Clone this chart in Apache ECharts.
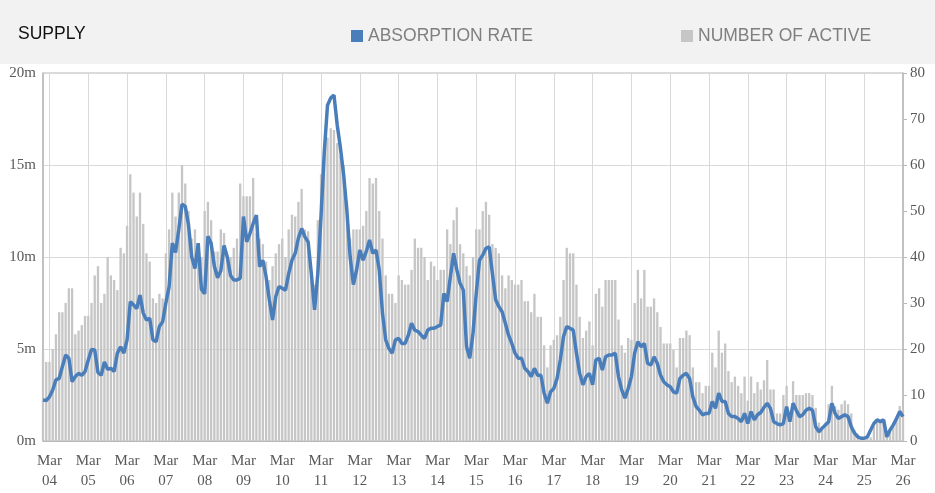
<!DOCTYPE html>
<html>
<head>
<meta charset="utf-8">
<script src="https://cdn.jsdelivr.net/npm/echarts@6/dist/echarts.min.js"></script>
<style>
  html, body { margin: 0; padding: 0; background: #fff; }
  #chart { width: 935px; height: 493px; }
</style>
</head>
<body>
<div id="chart"></div>
<script>
// month labels, Jan 04 .. Mar 26
var years = ['04','05','06','07','08','09','10','11','12','13','14','15','16','17','18','19','20','21','22','23','24','25','26'];
var months = ['Jan','Feb','Mar','Apr','May','Jun','Jul','Aug','Sep','Oct','Nov','Dec'];

// number of active (millions, left axis) - one row per year
var activeCount = [
  4.8, 4.3, 4.3, 5.0, 5.8, 7.0, 7.0, 7.5, 8.3, 8.3, 5.8, 6.0,        // 04
  6.3, 6.8, 6.8, 7.5, 9.0, 9.5, 7.5, 8.0, 10.0, 9.0, 8.75, 8.2,      // 05
  10.5, 10.2, 11.7, 14.5, 13.5, 12.2, 13.5, 11.8, 10.2, 9.75, 7.75, 7.5, // 06
  8.0, 7.75, 10.2, 11.5, 13.5, 12.2, 13.5, 15.0, 14.0, 12.5, 11.0, 11.5, // 07
  10.5, 10.0, 12.5, 13.0, 12.0, 10.3, 10.3, 11.5, 11.3, 10.0, 10.0, 10.5, // 08
  11.0, 14.0, 13.3, 13.3, 13.3, 14.3, 11.3, 11.0, 10.7, 9.75, 8.75, 9.5, // 09
  10.2, 10.7, 11.0, 10.0, 11.5, 12.3, 12.2, 13.0, 13.7, 11.5, 11.4, 8.75, // 10
  8.5, 12.0, 14.5, 15.5, 16.5, 17.0, 16.9, 16.2, 15.5, 15.0, 13.0, 11.0, // 11
  11.5, 11.5, 11.5, 11.7, 12.5, 14.3, 14.0, 14.3, 12.5, 11.0, 9.0, 8.0, // 12
  8.0, 7.5, 9.0, 8.75, 8.5, 8.5, 9.3, 11.0, 10.5, 10.5, 10.0, 8.75,  // 13
  9.75, 9.5, 8.75, 9.3, 9.3, 11.5, 10.7, 12.0, 12.7, 10.7, 10.2, 9.5, // 14
  9.0, 10.0, 11.5, 11.5, 12.5, 13.0, 12.3, 10.7, 10.5, 10.2, 9.0, 8.3, // 15
  9.0, 8.75, 8.5, 8.5, 8.75, 7.6, 7.6, 7.0, 8.0, 6.75, 6.75, 5.2,    // 16
  4.0, 5.2, 5.5, 5.75, 6.75, 8.75, 10.5, 10.2, 10.2, 8.5, 6.75, 5.6, // 17
  6.0, 6.5, 5.2, 8.0, 8.3, 7.3, 8.75, 8.75, 8.75, 8.75, 6.6, 5.2,    // 18
  4.8, 5.6, 5.5, 7.5, 9.3, 7.75, 9.3, 7.3, 7.3, 7.75, 7.0, 6.2,      // 19
  5.3, 5.3, 5.3, 4.95, 4.0, 5.6, 5.6, 6.0, 5.75, 4.0, 3.2, 3.2,      // 20
  2.6, 3.0, 3.0, 4.8, 4.0, 6.0, 4.8, 5.3, 3.8, 3.2, 3.5, 3.0,        // 21
  2.6, 3.5, 2.2, 3.5, 2.6, 3.2, 2.8, 3.3, 4.4, 2.8, 2.8, 1.5,        // 22
  1.5, 2.5, 3.0, 1.5, 3.25, 2.5, 2.5, 2.5, 2.6, 2.6, 2.5, 1.8,       // 23
  1.0, 0.8, 1.0, 2.0, 3.0, 1.9, 1.7, 2.0, 2.2, 2.0, 1.5, 0.6,        // 24
  0.4, 0.2, 0.15, 0.15, 0.2, 0.8, 1.1, 1.2, 1.0, 0.3, 0.5, 1.0,      // 25
  1.3, 1.9, 1.7                                                       // 26
];

// absorption rate (right axis)
var absorptionRate = [
  8.9, 8.8, 9.6, 11.1, 13.3, 13.6, 16.2, 18.7, 18.0, 12.9, 14.0, 14.7, // 04
  14.3, 15.1, 17.6, 19.9, 19.8, 14.9, 14.3, 17.2, 15.6, 15.8, 15.1, 19.1, // 05
  20.5, 19.1, 22.0, 30.3, 29.6, 28.8, 31.7, 27.8, 26.3, 26.7, 22.0, 21.6, // 06
  24.9, 25.9, 30.0, 33.5, 43.0, 41.0, 46.0, 51.5, 51.0, 47.0, 40.0, 37.5, // 07
  43.0, 33.0, 32.0, 44.5, 43.0, 38.0, 35.5, 37.0, 42.5, 40.0, 36.0, 35.0, // 08
  35.0, 35.4, 48.8, 43.3, 45.1, 47.3, 49.1, 37.9, 39.3, 35.7, 30.7, 26.3, // 09
  31.4, 33.6, 33.2, 32.8, 36.4, 39.3, 40.8, 44.1, 46.2, 44.4, 43.3, 36.4, // 10
  28.5, 36.4, 49.0, 62.8, 73.0, 74.6, 75.2, 68.7, 63.7, 57.8, 50.0, 40.0, // 11
  34.0, 37.2, 41.5, 39.3, 41.2, 43.7, 40.8, 41.5, 37.2, 27.8, 22.0, 20.1, // 12
  19.1, 22.0, 22.3, 21.2, 21.2, 23.0, 25.6, 24.1, 23.8, 23.0, 22.3, 24.1, // 13
  24.5, 24.5, 24.9, 25.2, 32.1, 30.3, 35.7, 40.8, 37.2, 34.3, 32.8, 20.5, // 14
  18.0, 23.4, 32.1, 39.3, 40.4, 41.9, 42.2, 36.4, 30.7, 29.2, 28.1, 25.6, // 15
  23.0, 21.2, 19.1, 18.0, 18.0, 15.8, 15.1, 14.0, 15.8, 14.3, 14.3, 10.4, // 16
  8.2, 10.7, 11.4, 13.6, 17.6, 22.7, 24.9, 24.5, 24.1, 19.1, 14.7, 12.2, // 17
  14.0, 14.7, 12.2, 17.6, 18.0, 15.4, 18.3, 18.7, 18.7, 19.1, 14.0, 11.1, // 18
  9.3, 11.4, 14.0, 19.1, 21.6, 20.5, 21.2, 16.9, 16.5, 18.3, 16.9, 14.3, // 19
  12.9, 12.2, 11.8, 10.7, 10.4, 13.6, 14.3, 14.7, 13.6, 9.6, 7.5, 6.7, // 20
  5.7, 6.0, 6.0, 8.6, 7.1, 10.4, 8.6, 8.6, 6.0, 5.3, 5.3, 4.9,       // 21
  4.2, 6.0, 3.8, 6.4, 4.6, 5.7, 6.2, 7.3, 8.2, 7.1, 4.2, 3.8,        // 22
  3.5, 3.8, 7.5, 4.2, 8.2, 6.7, 5.3, 5.7, 6.7, 7.1, 6.7, 3.1,        // 23
  2.0, 2.8, 3.5, 4.2, 8.2, 6.0, 4.9, 5.3, 5.7, 5.3, 3.1, 1.7,        // 24
  0.9, 0.6, 0.6, 0.9, 2.4, 3.8, 4.6, 4.2, 4.6, 0.9, 2.4, 3.5,        // 25
  4.9, 6.4, 5.3                                                       // 26
];

var categories = [];
years.forEach(function (y) {
  months.forEach(function (m) {
    if (categories.length < activeCount.length) categories.push(m + ' ' + y);
  });
});

// only the March months get a label and a vertical grid line
var isMarch = function (idx) {
  return categories[idx].indexOf('Mar') === 0;
};

var serif = '"Liberation Serif", "DejaVu Serif", serif';
var sans = '"Liberation Sans", Arial, sans-serif';

var chart = echarts.init(document.getElementById('chart'));
chart.setOption({
  animation: false,
  backgroundColor: '#ffffff',
  graphic: [{
    type: 'rect',
    z: -10,
    shape: {x: 0, y: 0, width: 935, height: 64},
    style: {fill: '#f2f2f2'}
  }],
  title: {
    text: 'SUPPLY',
    left: 13,
    top: 20,
    textStyle: {fontFamily: sans, fontSize: 17.5, fontWeight: 'normal', color: '#111'}
  },
  legend: [{
    data: ['ABSORPTION RATE'],
    left: 346,
    top: 22,
    icon: 'rect',
    itemWidth: 12,
    itemHeight: 12,
    itemGap: 6,
    textStyle: {fontFamily: sans, fontSize: 17.5, color: '#7f7f7f'}
  }, {
    data: ['NUMBER OF ACTIVE'],
    left: 676,
    top: 22,
    icon: 'rect',
    itemWidth: 12,
    itemHeight: 12,
    textStyle: {fontFamily: sans, fontSize: 17.5, color: '#7f7f7f'}
  }],
  grid: {
    left: 43, right: 32, top: 73, bottom: 52,
    show: true,
    borderColor: '#b8b8b8',
    borderWidth: 1
  },
  xAxis: {
    type: 'category',
    data: categories,
    boundaryGap: false,
    axisLine: {show: true, lineStyle: {color: '#b8b8b8', width: 1}},
    axisTick: {show: false},
    axisLabel: {
      interval: isMarch,
      formatter: function (v) { return v.replace(' ', '\n'); },
      fontFamily: serif,
      fontSize: 15,
      lineHeight: 20,
      color: '#595959',
      margin: 10
    },
    splitLine: {show: true, interval: isMarch, lineStyle: {color: '#d9d9d9', width: 1}}
  },
  yAxis: [{
    type: 'value',
    min: 0,
    max: 20,
    interval: 5,
    axisLine: {show: true, lineStyle: {color: '#b8b8b8', width: 1.5}},
    axisTick: {show: false},
    axisLabel: {formatter: '{value}m', fontFamily: serif, fontSize: 15, color: '#595959', margin: 7},
    splitLine: {show: true, lineStyle: {color: '#d9d9d9', width: 1}}
  }, {
    type: 'value',
    min: 0,
    max: 80,
    interval: 10,
    position: 'right',
    axisLine: {show: true, lineStyle: {color: '#b8b8b8', width: 1.5}},
    axisTick: {show: true, length: 4, lineStyle: {color: '#b8b8b8'}},
    axisLabel: {fontFamily: serif, fontSize: 15, color: '#595959', margin: 7},
    splitLine: {show: false}
  }],
  series: [{
    name: 'NUMBER OF ACTIVE',
    type: 'bar',
    yAxisIndex: 0,
    data: activeCount,
    barWidth: '72%',
    itemStyle: {color: '#c6c6c6'},
    z: 1
  }, {
    name: 'ABSORPTION RATE',
    type: 'line',
    yAxisIndex: 1,
    data: absorptionRate,
    symbol: 'none',
    smooth: false,
    lineStyle: {color: '#4a7ebb', width: 3.5},
    itemStyle: {color: '#4a7ebb'},
    z: 3
  }]
});
</script>
</body>
</html>
